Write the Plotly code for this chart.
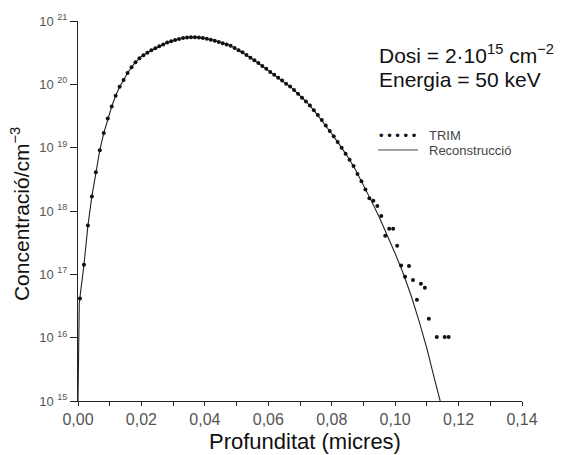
import math
import plotly.graph_objects as go

# ---- data ----
# TRIM histogram points: depth (micres) and log10 of concentration (cm^-3)
trim_x = [0.000625, 0.001875, 0.003125, 0.004375, 0.005625, 0.006875, 0.008125, 0.009375,
          0.010625, 0.011875, 0.013125, 0.014375, 0.015625, 0.016875, 0.018125, 0.019375,
          0.020625, 0.021875, 0.023125, 0.024375, 0.025625, 0.026875, 0.028125, 0.029375,
          0.030625, 0.031875, 0.033125, 0.034375, 0.035625, 0.036875, 0.038125, 0.039375,
          0.040625, 0.041875, 0.043125, 0.044375, 0.045625, 0.046875, 0.048125, 0.049375,
          0.050625, 0.051875, 0.053125, 0.054375, 0.055625, 0.056875, 0.058125, 0.059375,
          0.060625, 0.061875, 0.063125, 0.064375, 0.065625, 0.066875, 0.068125, 0.069375,
          0.070625, 0.071875, 0.073125, 0.074375, 0.075625, 0.076875, 0.078125, 0.079375,
          0.080625, 0.081875, 0.083125, 0.084375, 0.085625, 0.086875, 0.088125, 0.089375,
          0.090625, 0.091875, 0.093125, 0.094375, 0.095625, 0.096875, 0.098125, 0.099375,
          0.100625, 0.101875, 0.103125, 0.104375, 0.105625, 0.106875, 0.108125, 0.109375,
          0.110625, 0.113125, 0.115625, 0.116875]
trim_log10 = [16.62, 17.15, 17.77, 18.23, 18.61, 18.96, 19.23, 19.46,
              19.65, 19.82, 19.96, 20.07, 20.18, 20.27, 20.35, 20.41,
              20.46, 20.50, 20.54, 20.57, 20.60, 20.63, 20.66, 20.68,
              20.70, 20.715, 20.73, 20.74, 20.745, 20.745, 20.74, 20.73,
              20.72, 20.705, 20.69, 20.67, 20.65, 20.63, 20.61, 20.575,
              20.54, 20.505, 20.465, 20.42, 20.38, 20.335, 20.29, 20.245,
              20.195, 20.15, 20.105, 20.06, 20.01, 19.965, 19.91, 19.85,
              19.79, 19.73, 19.665, 19.59, 19.515, 19.435, 19.35, 19.265,
              19.18, 19.09, 19.00, 18.905, 18.81, 18.71, 18.585, 18.47,
              18.34, 18.20, 18.16, 18.08, 17.92, 17.61, 17.72, 17.72,
              17.45, 17.14, 16.96, 17.13, 16.91, 16.60, 16.85, 16.79,
              16.30, 16.01, 16.01, 16.01]

# Reconstructed profile
rec_x = [0.0, 0.0004, 0.001875, 0.003125, 0.004375, 0.005625, 0.006875, 0.008125,
         0.009375, 0.010625, 0.011875, 0.013125, 0.014375, 0.015625, 0.0175, 0.02,
         0.0225, 0.025, 0.0275, 0.03, 0.0325, 0.035, 0.0375, 0.04,
         0.0425, 0.045, 0.0475, 0.05, 0.0525, 0.055, 0.0575, 0.06,
         0.0625, 0.065, 0.0675, 0.07, 0.0725, 0.075, 0.0775, 0.08,
         0.0825, 0.085, 0.0875, 0.09, 0.0925, 0.095, 0.0975, 0.1,
         0.1025, 0.105, 0.1075, 0.11, 0.1125, 0.1142]
rec_log10 = [15.0, 16.55, 17.15, 17.77, 18.23, 18.61, 18.96, 19.23,
             19.46, 19.65, 19.82, 19.96, 20.07, 20.18, 20.31, 20.44,
             20.52, 20.585, 20.645, 20.69, 20.725, 20.742, 20.743, 20.725,
             20.70, 20.66, 20.62, 20.56, 20.485, 20.40, 20.31, 20.22,
             20.13, 20.035, 19.94, 19.82, 19.70, 19.55, 19.39, 19.22,
             19.045, 18.86, 18.65, 18.41, 18.16, 17.90, 17.62, 17.33,
             17.02, 16.67, 16.27, 15.83, 15.33, 15.0]

x_ticks = [0.0, 0.02, 0.04, 0.06, 0.08, 0.10, 0.12, 0.14]
x_tick_labels = ["0,00", "0,02", "0,04", "0,06", "0,08", "0,10", "0,12", "0,14"]
y_exponents = [15, 16, 17, 18, 19, 20, 21]

trim_y = [10.0 ** v for v in trim_log10]
rec_y = [10.0 ** v for v in rec_log10]

FONT = "Liberation Sans, Arial, Helvetica, sans-serif"

fig = go.Figure()
fig.add_trace(go.Scatter(x=rec_x, y=rec_y, mode="lines",
                         line=dict(color="#222222", width=1.1), name="Reconstrucció"))
fig.add_trace(go.Scatter(x=trim_x, y=trim_y, mode="markers",
                         marker=dict(color="#111111", size=4), name="TRIM"))

y_major = [10.0 ** e for e in y_exponents]

fig.update_layout(
    width=576, height=455,
    margin=dict(l=78, r=54, t=15, b=54),
    paper_bgcolor="white", plot_bgcolor="white",
    showlegend=False,
    font=dict(family=FONT, color="#111111"),
    xaxis=dict(
        range=[0, 0.14], tickmode="array", tickvals=x_ticks, ticktext=x_tick_labels,
        ticks="outside", ticklen=4, tickwidth=1, tickcolor="#222",
        showline=True, linecolor="#222", linewidth=1,
        showgrid=False, zeroline=False,
        tickfont=dict(size=16, color="#555555", family=FONT),
        minor=dict(dtick=0.01, tick0=0, ticks="outside", ticklen=4, tickcolor="#222", showgrid=False),
    ),
    yaxis=dict(
        type="log", range=[15, 21], tickmode="array",
        tickvals=y_major, ticktext=["10 <sup>%d</sup>" % e for e in y_exponents],
        ticks="outside", ticklen=7, tickwidth=1, tickcolor="#222",
        showline=True, linecolor="#222", linewidth=1,
        showgrid=False, zeroline=False,
        tickfont=dict(size=13, color="#555555", family=FONT),
    ),
)

# minor log ticks on the y axis (2..9 within each decade), drawn as short marks
for e in y_exponents[:-1]:
    for m in range(2, 10):
        ly = e + math.log10(m)
        fig.add_shape(type="line", xref="paper", yref="y",
                      x0=-3.5 / 444, x1=0, y0=ly, y1=ly,
                      line=dict(color="#222222", width=1))

annotations = [
    dict(text="Profunditat (micres)", x=0.511, y=-0.106, xref="paper", yref="paper",
         showarrow=False, xanchor="center", yanchor="middle",
         font=dict(size=22, color="#111111", family=FONT)),
    dict(text="Concentració/cm<sup>−3</sup>", x=-0.1306, y=0.492, xref="paper", yref="paper",
         showarrow=False, xanchor="center", yanchor="middle", textangle=-90,
         font=dict(size=21, color="#111111", family=FONT)),
    dict(text="Dosi = 2·10<sup>15</sup> cm<sup>−2</sup>", x=0.673, y=0.912, xref="paper", yref="paper",
         showarrow=False, xanchor="left", yanchor="middle",
         font=dict(size=21, color="#111111", family=FONT)),
    dict(text="Energia = 50 keV", x=0.673, y=0.845, xref="paper", yref="paper",
         showarrow=False, xanchor="left", yanchor="middle",
         font=dict(size=21, color="#111111", family=FONT)),
    dict(text="• • • • •", x=(377 - 78) / 444, y=(401 - 131) / 386, xref="paper", yref="paper",
         showarrow=False, xanchor="left", yanchor="middle",
         font=dict(size=13, color="#111111", family=FONT)),
    dict(text="TRIM", x=(427 - 78) / 444, y=(401 - 131) / 386, xref="paper", yref="paper",
         showarrow=False, xanchor="left", yanchor="middle",
         font=dict(size=13, color="#444444", family=FONT)),
    dict(text="Reconstrucció", x=(427 - 78) / 444, y=(401 - 147) / 386, xref="paper", yref="paper",
         showarrow=False, xanchor="left", yanchor="middle",
         font=dict(size=13, color="#444444", family=FONT)),
]
fig.update_layout(annotations=annotations)
fig.add_shape(type="line", xref="paper", yref="paper",
              x0=(378 - 78) / 444, x1=(418 - 78) / 444,
              y0=(401 - 146) / 386, y1=(401 - 146) / 386,
              line=dict(color="#444444", width=1))

fig.write_html("out.html")
